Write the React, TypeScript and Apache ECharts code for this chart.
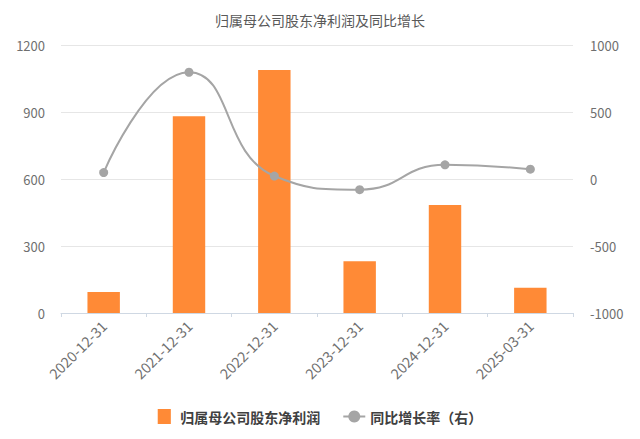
import React, { useEffect, useRef } from "react";
import * as echarts from "echarts";

const categories = ["2020-12-31", "2021-12-31", "2022-12-31", "2023-12-31", "2024-12-31", "2025-03-31"];
const profitValues = [94, 883, 1090, 232, 484, 113];
const yoyValues = [50, 800, 24, -78, 108, 75];
const leftTicks = { min: 0, max: 1200, interval: 300 };
const rightTicks = { min: -1000, max: 1000, interval: 500 };

const FONT = "'Noto Sans CJK SC', 'Noto Sans', sans-serif";

export default function App() {
  const ref = useRef<HTMLDivElement>(null);
  useEffect(() => {
    if (!ref.current) return;
    const chart = echarts.init(ref.current, undefined, { renderer: "svg" });
    chart.setOption({
      animation: false,
      backgroundColor: "#ffffff",
      textStyle: { fontFamily: FONT },
      title: {
        text: "归属母公司股东净利润及同比增长",
        left: "center",
        top: 8,
        textStyle: { fontSize: 14, fontWeight: "normal", color: "#595959", fontFamily: FONT },
      },
      legend: {
        bottom: 10,
        left: "center",
        itemGap: 22,
        itemWidth: 22,
        itemHeight: 15,
        symbolKeepAspect: true,
        textStyle: { fontSize: 14, fontWeight: "bold", color: "#404040", fontFamily: FONT },
        data: [
          { name: "归属母公司股东净利润", icon: "path://M0,0H14V16H0Z" },
          { name: "同比增长率（右）" },
        ],
      },
      grid: { left: 61, right: 67, top: 45.5, bottom: 126, containLabel: false },
      xAxis: {
        type: "category",
        data: categories,
        boundaryGap: true,
        axisLine: { lineStyle: { color: "#cfd8e3", width: 1 } },
        axisTick: { show: true, alignWithLabel: false, length: 4, lineStyle: { color: "#cfd8e3" } },
        axisLabel: { rotate: 45, color: "#6f6f6f", fontSize: 14.5, margin: 10, fontFamily: FONT },
      },
      yAxis: [
        {
          type: "value",
          min: leftTicks.min,
          max: leftTicks.max,
          interval: leftTicks.interval,
          axisLine: { show: false },
          axisTick: { show: false },
          axisLabel: { color: "#6f6f6f", fontSize: 13, margin: 16, fontFamily: FONT, formatter: (v: number) => String(v) },
          splitLine: { lineStyle: { color: "#e6e6e6" } },
        },
        {
          type: "value",
          min: rightTicks.min,
          max: rightTicks.max,
          interval: rightTicks.interval,
          axisLine: { show: false },
          axisTick: { show: false },
          axisLabel: { color: "#6f6f6f", fontSize: 13, margin: 17, fontFamily: FONT, formatter: (v: number) => String(v) },
          splitLine: { show: false },
        },
      ],
      series: [
        {
          name: "归属母公司股东净利润",
          type: "bar",
          data: profitValues,
          barWidth: "38%",
          itemStyle: { color: "#ff8a36" },
        },
        {
          name: "同比增长率（右）",
          type: "line",
          yAxisIndex: 1,
          data: yoyValues,
          smooth: true,
          symbol: "circle",
          symbolSize: 9,
          lineStyle: { color: "#a5a5a5", width: 2 },
          itemStyle: { color: "#a5a5a5" },
        },
      ],
    });
    return () => chart.dispose();
  }, []);
  return <div ref={ref} style={{ width: 640, height: 439, position: "absolute", left: 0, top: 0 }} />;
}
